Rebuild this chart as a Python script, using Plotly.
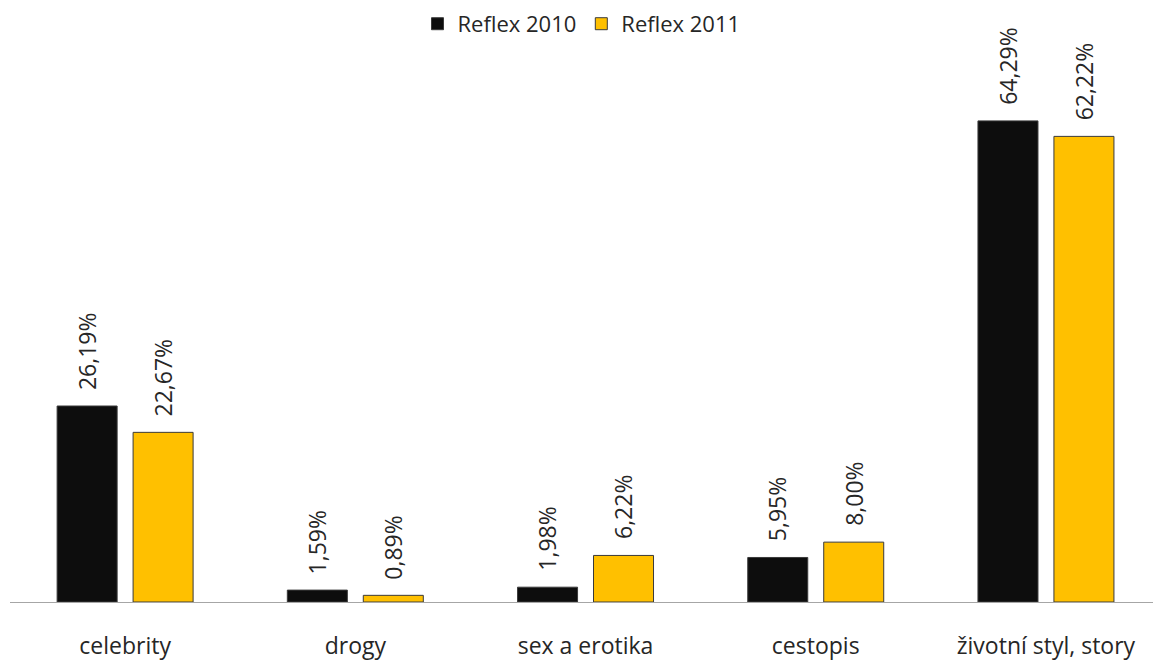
import plotly.graph_objects as go

categories = ["celebrity", "drogy", "sex a erotika", "cestopis", "životní styl, story"]
reflex_2010 = [26.19, 1.59, 1.98, 5.95, 64.29]
reflex_2011 = [22.67, 0.89, 6.22, 8.00, 62.22]
series_names = ["Reflex 2010", "Reflex 2011"]
series_colors = ["#0D0D0D", "#FFC000"]

def fmt(v):
    return f"{v:.2f}".replace(".", ",") + "%"

FONT = "Open Sans"
TXT = "#262626"
fig = go.Figure()
for name, vals, col in zip(series_names, [reflex_2010, reflex_2011], series_colors):
    fig.add_trace(go.Bar(
        x=categories, y=vals, name=name,
        marker=dict(color=col, line=dict(color="#3A3A3A", width=1)),
    ))

# value labels (rotated, above bars)
for vals, shift in [(reflex_2010, -38), (reflex_2011, 38)]:
    for c, v in zip(categories, vals):
        fig.add_annotation(x=c, y=v, text=fmt(v), showarrow=False, textangle=-90,
                           xanchor="center", yanchor="bottom", xshift=shift, yshift=14,
                           font=dict(family=FONT, size=23, color=TXT))

fig.update_layout(
    width=1153, height=661,
    margin=dict(l=10, r=0, t=40, b=50),
    paper_bgcolor="white", plot_bgcolor="white",
    barmode="group", bargap=0.34, bargroupgap=0.21,
    font=dict(family=FONT, size=23, color=TXT),
    showlegend=True,
    legend=dict(orientation="h", x=0.5, xanchor="center", y=1.066, yanchor="top",
                font=dict(family=FONT, size=22, color=TXT),
                itemwidth=30, traceorder="normal"),
    xaxis=dict(range=[-0.5, 4.465], showline=True, linecolor="#A6A6A6", linewidth=1,
               ticks="", tickfont=dict(family=FONT, size=23, color=TXT),
               ticklabelstandoff=23, showgrid=False, fixedrange=True),
    yaxis=dict(range=[0, 75.1], visible=False, showgrid=False, fixedrange=True),
)
fig.write_html("out.html", config={"displayModeBar": False},
               post_script="document.body.style.margin='0';document.body.style.overflow='hidden';")
